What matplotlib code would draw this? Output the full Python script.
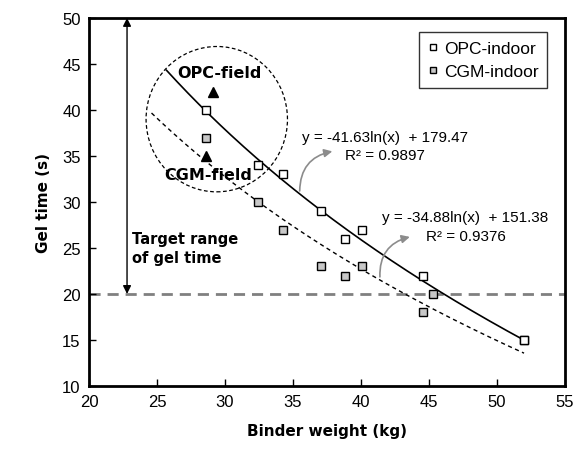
import numpy as np
import matplotlib.pyplot as plt
from matplotlib.patches import Ellipse

# data
opc_x = [28.6, 32.4, 34.3, 37.1, 38.8, 40.1, 44.6, 52.0]
opc_y = [40, 34, 33, 29, 26, 27, 22, 15]
cgm_x = [28.6, 32.4, 34.3, 37.1, 38.8, 40.1, 44.6, 45.3, 52.0]
cgm_y = [37, 30, 27, 23, 22, 23, 18, 20, 15]
field_x = [29.1, 28.6]
field_y = [42, 35]

opc_fit = (-41.63, 179.47, 0.9897)
cgm_fit = (-34.88, 151.38, 0.9376)
opc_range = (25.7, 52.0)
cgm_range = (24.6, 52.0)
target_gel = 20

plt.rcParams['font.family'] = ['Liberation Sans', 'DejaVu Sans']
bold_font = ['DejaVu Sans']

fig = plt.figure(figsize=(5.74, 4.52), dpi=100)
ax = fig.add_axes([0.155, 0.144, 0.829, 0.814])

# trendlines
xs = np.linspace(opc_range[0], opc_range[1], 200)
ax.plot(xs, opc_fit[0]*np.log(xs) + opc_fit[1], color='black', lw=1.2, zorder=2)
xs = np.linspace(cgm_range[0], cgm_range[1], 200)
ax.plot(xs, cgm_fit[0]*np.log(xs) + cgm_fit[1], color='black', lw=1.0,
        dashes=(3, 2.5), zorder=2)

# target line
ax.axhline(target_gel, color='#808080', lw=2, dashes=(4, 2.5), zorder=1)

ax.plot(cgm_x, cgm_y, 's', ms=6, mfc='#c8c8c8', mec='black', mew=1,
        label='CGM-indoor', zorder=3)
ax.plot(opc_x, opc_y, 's', ms=6, mfc='white', mec='black', mew=1,
        label='OPC-indoor', zorder=3)
ax.plot(field_x, field_y, '^', ms=7, color='black', zorder=4)

# circle around field points
ax.add_patch(Ellipse((29.4, 39.0), 10.4, 15.8, fill=False, ls=(0, (3, 2)),
                     lw=0.9, color='black', zorder=2))

ax.text(29.6, 44.1, 'OPC-field', ha='center', va='center', fontsize=11.5,
        fontweight='bold', family=bold_font)
ax.text(28.8, 33.0, 'CGM-field', ha='center', va='center', fontsize=11.5,
        fontweight='bold', family=bold_font)

# target range arrow
ax.annotate('', xy=(22.8, 50), xytext=(22.8, 20),
            arrowprops=dict(arrowstyle='<|-|>', color='black', lw=1,
                            mutation_scale=12, shrinkA=0, shrinkB=0))
ax.text(23.2, 25.0, 'Target range\nof gel time', ha='left', va='center',
        fontsize=10.5, fontweight='bold', family=bold_font, linespacing=1.3)

# equations
ax.text(41.8, 37.1, 'y = -41.63ln(x)  + 179.47', ha='center', va='center', fontsize=11)
ax.text(41.8, 35.1, 'R² = %.4f' % opc_fit[2], ha='center', va='center', fontsize=11)
ax.text(47.7, 28.4, 'y = -34.88ln(x)  + 151.38', ha='center', va='center', fontsize=11)
ax.text(47.7, 26.3, 'R² = %.4f' % cgm_fit[2], ha='center', va='center', fontsize=11)

ax.annotate('', xy=(37.9, 35.5), xytext=(35.5, 31.2),
            arrowprops=dict(arrowstyle='-|>', color='#8c8c8c', lw=1.2,
                            connectionstyle='arc3,rad=-0.4', mutation_scale=12,
                            shrinkA=0, shrinkB=0))
ax.annotate('', xy=(43.6, 26.2), xytext=(41.4, 21.85),
            arrowprops=dict(arrowstyle='-|>', color='#8c8c8c', lw=1.2,
                            connectionstyle='arc3,rad=-0.4', mutation_scale=12,
                            shrinkA=0, shrinkB=0))

ax.set_xlim(20, 55)
ax.set_ylim(10, 50)
ax.set_xticks(range(20, 56, 5))
ax.set_yticks(range(10, 51, 5))
ax.tick_params(direction='in', length=5, width=1, labelsize=12, pad=6)
for s in ax.spines.values():
    s.set_linewidth(2)

ax.set_xlabel('Binder weight (kg)', fontsize=11, fontweight='bold',
              family=bold_font, labelpad=10)
ax.set_ylabel('Gel time (s)', fontsize=11, fontweight='bold',
              family=bold_font, labelpad=8)

h, l = ax.get_legend_handles_labels()
ax.legend(h[::-1], l[::-1], loc='upper right', bbox_to_anchor=(0.97, 0.97),
          fontsize=12.5, frameon=True, fancybox=False, edgecolor='black',
          handlelength=0.6, handletextpad=0.3, borderpad=0.5, labelspacing=0.45,
          borderaxespad=0.2, markerscale=0.75)
leg = ax.get_legend()
leg.get_frame().set_linewidth(1)

fig.savefig('out.png', dpi=100)
